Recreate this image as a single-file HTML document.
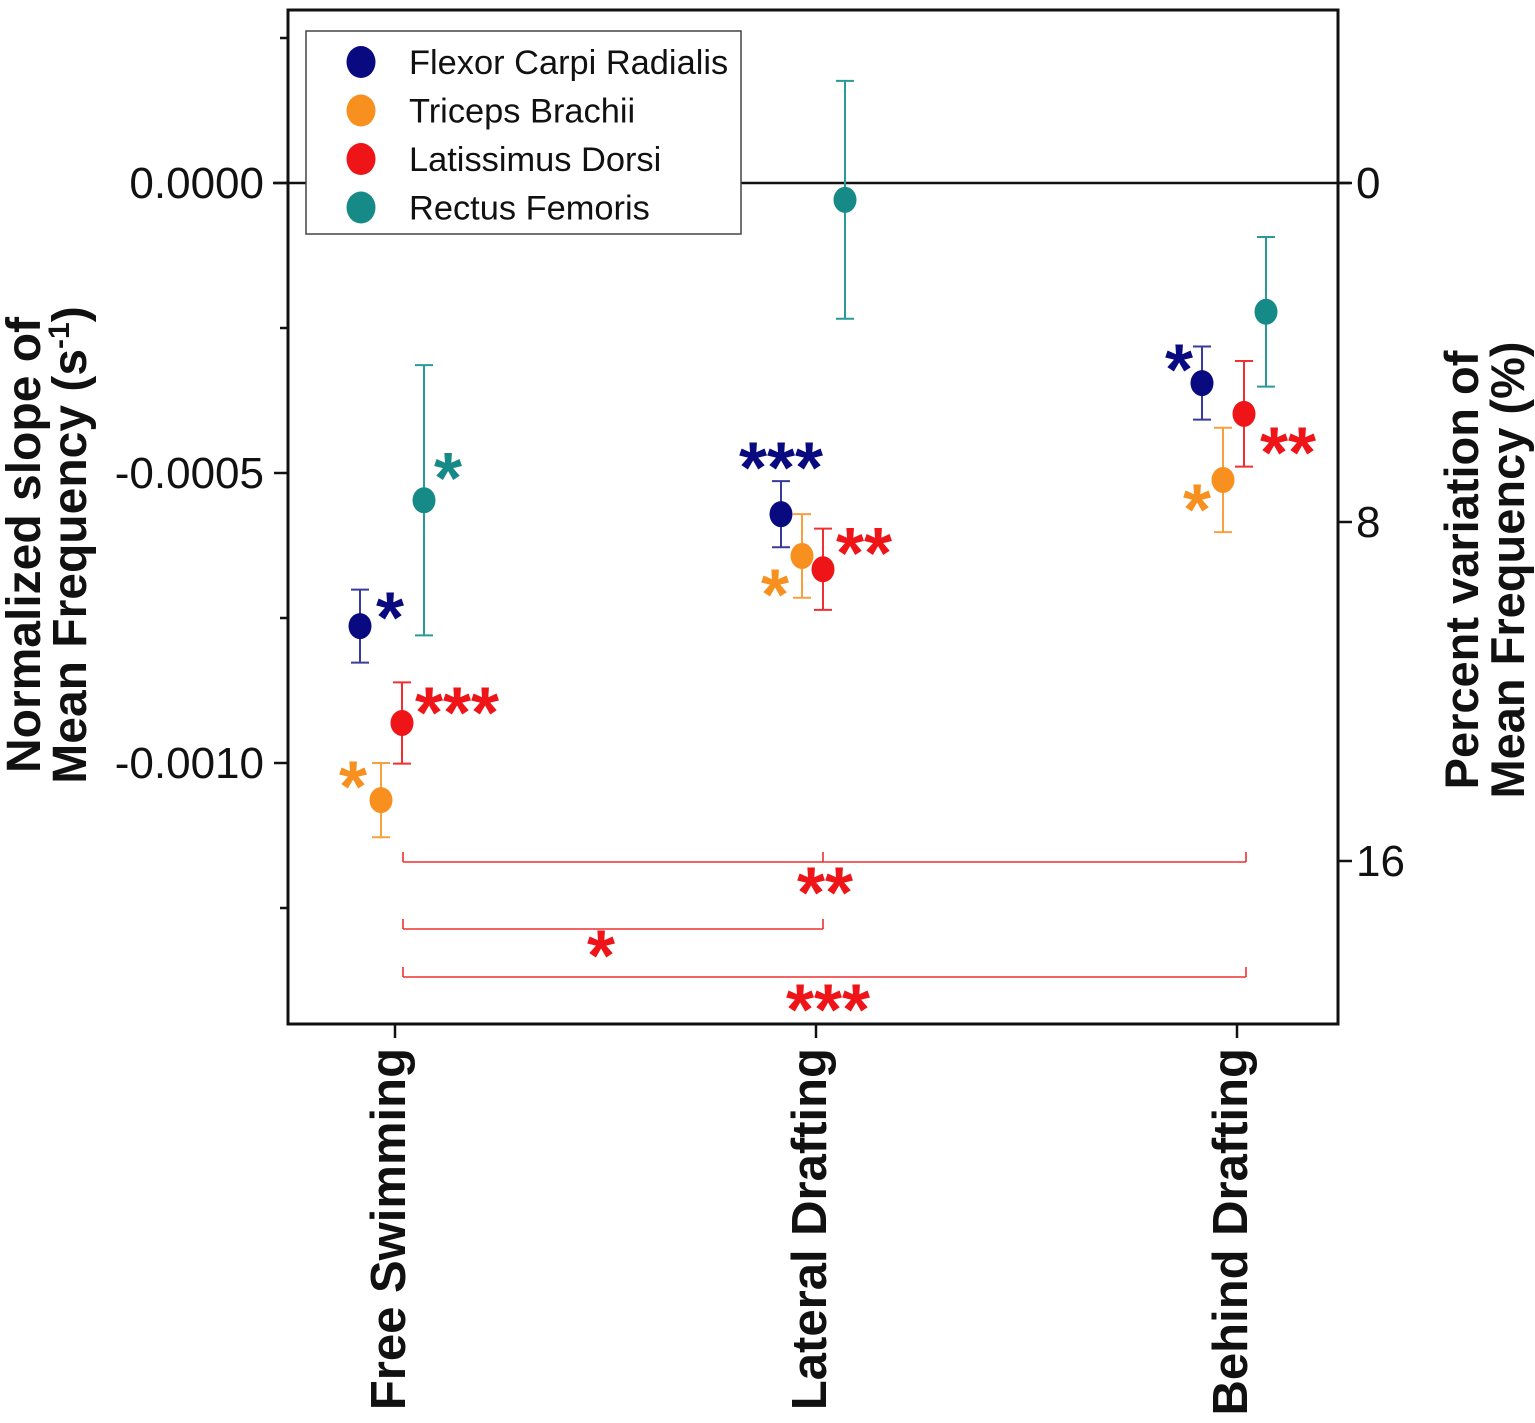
<!DOCTYPE html>
<html><head><meta charset="utf-8"><style>
body{margin:0;background:#fff}
svg{display:block;font-family:"Liberation Sans",Arial,sans-serif}
</style></head><body>
<svg id="chart" width="1535" height="1423" viewBox="0 0 1535 1423"></svg>
<script>
const categories=["Free Swimming","Lateral Drafting","Behind Drafting"];
const seriesNames=["Flexor Carpi Radialis","Triceps Brachii","Latissimus Dorsi","Rectus Femoris"];
const seriesColors=["#0a0a80","#f7901e","#ee1418","#168a86"];
const flexorVals=[-0.000764,-0.000571,-0.000345];
const flexorErr=[0.000063,0.000057,0.000063];
const tricepsVals=[-0.001064,-0.000643,-0.000512];
const tricepsErr=[0.000064,0.000072,0.00009];
const latVals=[-0.000931,-0.000666,-0.000398];
const latErr=[0.00007,0.00007,0.000091];
const rectusVals=[-0.000547,-0.000029,-0.000222];
const rectusErr=[0.000233,0.000205,0.000129];
const sigLabels=[["*","***","*"],["*","*","*"],["***","**","**"],["*","",""]];
const leftTicks=[0,-0.0005,-0.001];
const leftTickLabels=["0.0000","-0.0005","-0.0010"];
const rightTicks=[0,8,16];

const svg=document.getElementById('chart');
const NS="http://www.w3.org/2000/svg";
function el(t,a,p){const e=document.createElementNS(NS,t);for(const k in a)e.setAttribute(k,a[k]);(p||svg).appendChild(e);return e;}
const y=v=>183-(v/0.0005)*290;
const yR=v=>183+v*(339/8);
const xCat=i=>395+i*421;
const offs=[-35,-14,7,29];
const vals=[flexorVals,tricepsVals,latVals,rectusVals];
const errs=[flexorErr,tricepsErr,latErr,rectusErr];
const errColors=["#3a3a9a","#f7a040","#f03030","#2a9a96"];
const starPos=[
 [[16,-18,'start'],[0,-56,'middle'],[-9,-23,'end']],
 [[-14,-23,'end'],[-13,29,'end'],[-12,20,'end']],
 [[13,-20,'start'],[13,-26,'start'],[16,29,'start']],
 [[10,-32,'start'],[0,0,'start'],[0,0,'start']]
];
const SS=72;

const fr=el('rect',{x:288,y:10,width:1050,height:1014,fill:'none',stroke:'#111','stroke-width':3});

const zl=el('line',{x1:273,x2:1350,y1:y(0),y2:y(0),stroke:'#111','stroke-width':2.5});

leftTicks.forEach((t,i)=>{
  el('line',{x1:274,x2:288,y1:y(t),y2:y(t),stroke:'#111','stroke-width':2.5});
  const tx=el('text',{x:264,y:y(t)+15,'text-anchor':'end','font-size':44,fill:'#111'});
  tx.textContent=leftTickLabels[i];
  
});
[0.00025,-0.00025,-0.00075,-0.00125].forEach(t=>el('line',{x1:280,x2:288,y1:y(t),y2:y(t),stroke:'#111','stroke-width':2.5}));
rightTicks.forEach(t=>{
  el('line',{x1:1338,x2:1352,y1:yR(t),y2:yR(t),stroke:'#111','stroke-width':2.5});
  const tx=el('text',{x:1356,y:yR(t)+15,'font-size':44,fill:'#111'});
  tx.textContent=String(t);
  
});
categories.forEach((c,i)=>{
  el('line',{x1:xCat(i),x2:xCat(i),y1:1024,y2:1038,stroke:'#111','stroke-width':2.5});
  const tx=el('text',{x:0,y:0,'font-size':49,'font-weight':'bold',fill:'#111','text-anchor':'end',transform:`translate(${xCat(i)+10},1048) rotate(-90)`});
  tx.textContent=c;
  
});
const lt=el('text',{'font-size':48,'font-weight':'bold',fill:'#111','text-anchor':'middle',transform:'translate(40,545) rotate(-90)'});
lt.innerHTML='<tspan x="0" dy="0">Normalized slope of</tspan><tspan x="0" dy="46">Mean Frequency (s<tspan font-size="30" dy="-17">-1</tspan><tspan dy="17">)</tspan></tspan>';

const rt=el('text',{'font-size':47,'font-weight':'bold',fill:'#111','text-anchor':'middle',transform:'translate(1478,570) rotate(-90)'});
rt.innerHTML='<tspan x="0" dy="0">Percent variation of</tspan><tspan x="0" dy="46">Mean Frequency (%)</tspan>';

vals.forEach((arr,s)=>{
  arr.forEach((v,i)=>{
    const cx=xCat(i)+offs[s];
    const g=el('g',{});
    
    const e=errs[s][i],c=errColors[s];
    el('line',{x1:cx,x2:cx,y1:y(v+e),y2:y(v-e),stroke:c,'stroke-width':2},g);
    el('line',{x1:cx-9,x2:cx+9,y1:y(v+e),y2:y(v+e),stroke:c,'stroke-width':2},g);
    el('line',{x1:cx-9,x2:cx+9,y1:y(v-e),y2:y(v-e),stroke:c,'stroke-width':2},g);
    el('ellipse',{cx:cx,cy:y(v),rx:11.5,ry:13,fill:seriesColors[s]},g);
    const lab=sigLabels[s][i];
    if(lab){
      const p=starPos[s][i];
      const st=el('text',{x:cx+p[0],y:y(v)+p[1]+SS*0.48,'font-size':SS,'font-weight':'bold',fill:seriesColors[s],'text-anchor':p[2]},g);
      st.textContent=lab;
      
    }
  });
});
const br=[[403,1246,862,823,"**",825,883],[403,823,929,null,"*",601,946],[403,1246,977,null,"***",828,1000]];
br.forEach(b=>{
  const g=el('g',{stroke:'#ee3030','stroke-width':1.6,fill:'none'});
  
  el('line',{x1:b[0],x2:b[1],y1:b[2],y2:b[2]},g);
  el('line',{x1:b[0],x2:b[0],y1:b[2]-10,y2:b[2]},g);
  el('line',{x1:b[1],x2:b[1],y1:b[2]-10,y2:b[2]},g);
  if(b[3])el('line',{x1:b[3],x2:b[3],y1:b[2]-10,y2:b[2]},g);
  const t=el('text',{x:b[5],y:b[6]+SS*0.48,'font-size':SS,'font-weight':'bold',fill:'#ee1418','text-anchor':'middle'});
  t.textContent=b[4];
  
});
const lg=el('g',{});

el('rect',{x:306,y:31,width:435,height:203,fill:'#fff',stroke:'#444','stroke-width':1.5},lg);
seriesNames.forEach((n,i)=>{
  const g=el('g',{},lg);
  
  el('ellipse',{cx:361,cy:62+i*48.5,rx:14.5,ry:16,fill:seriesColors[i]},g);
  const t=el('text',{x:409,y:74+i*48.5,'font-size':34.4,fill:'#111'},g);
  t.textContent=n;
});
</script>
</body></html>
